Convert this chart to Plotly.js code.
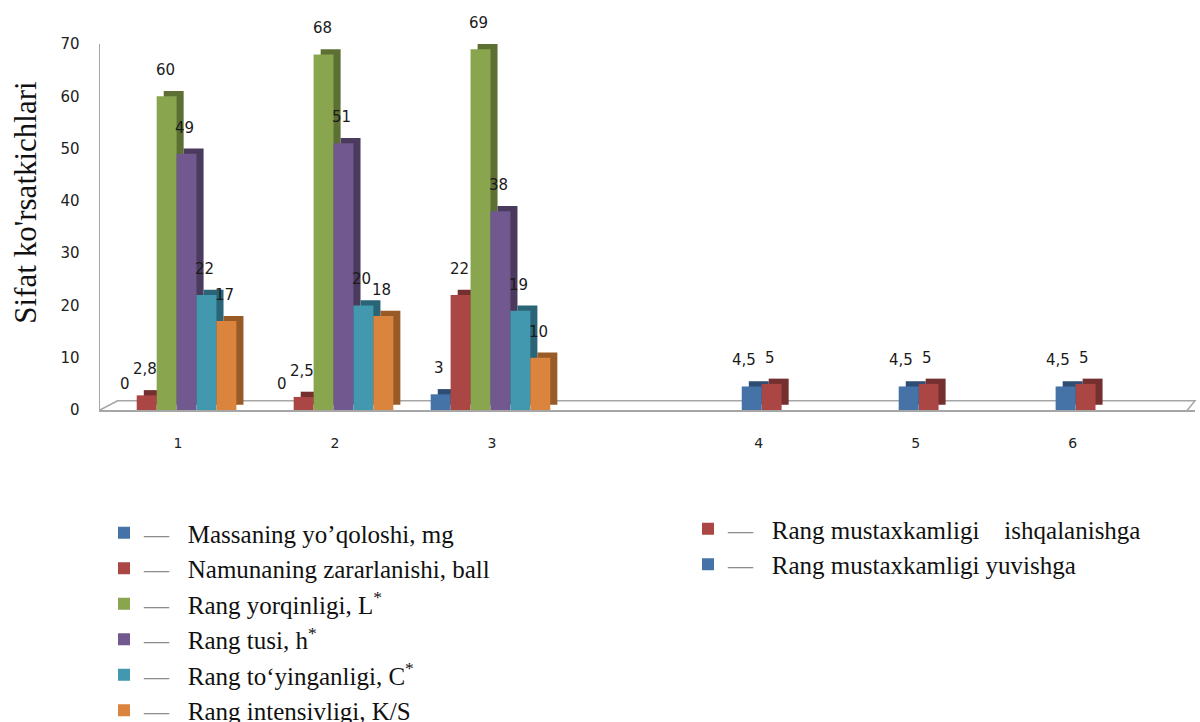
<!DOCTYPE html>
<html>
<head>
<meta charset="utf-8">
<script src="https://cdn.plot.ly/plotly-3.0.1.min.js"></script>
<style>html,body{margin:0;padding:0;background:#fff}#chart{width:1200px;height:722px}</style>
</head>
<body>
<div id="chart"></div>
<script>
// ---- data ----
const categories = ["1", "2", "3", "4", "5", "6"];
const groupA = ["1", "2", "3"];
const massLoss = [0, 0, 3];          // Massaning yoʼqoloshi, mg
const damage = [2.8, 2.5, 22];       // Namunaning zararlanishi, ball
const lightness = [60, 68, 69];      // Rang yorqinligi, L*
const hue = [49, 51, 38];            // Rang tusi, h*
const chroma = [22, 20, 19];         // Rang to‘yinganligi, C*
const intensity = [17, 18, 10];      // Rang intensivligi, K/S
const groupB = ["4", "5", "6"];
const rubFast = [5, 5, 5];           // Rang mustaxkamligi ishqalanishga
const washFast = [4.5, 4.5, 4.5];    // Rang mustaxkamligi yuvishga

// ---- layout helpers (positions of category slots on the axis) ----
const catPos = {"1": 1, "2": 2, "3": 3, "4": 4.7, "5": 5.7, "6": 6.7};
const BW = 0.127, DX = 0.045, DY = 1.0;
const dash = '<span style="color:#8c8c8c">—</span>\u00A0\u00A0\u00A0';

const seriesA = [
  {name: "Massaning yo\u02BCqoloshi, mg", y: massLoss, c: "#4572A7", d: "#2E4D74"},
  {name: "Namunaning zararlanishi, ball", y: damage, c: "#AA4643", d: "#74302E"},
  {name: "Rang yorqinligi, L<sup>*</sup>", y: lightness, c: "#89A54E", d: "#5C7034"},
  {name: "Rang tusi, h<sup>*</sup>", y: hue, c: "#71588F", d: "#4A3A5E"},
  {name: "Rang to\u2018yinganligi, C<sup>*</sup>", y: chroma, c: "#4198AF", d: "#2A6577"},
  {name: "Rang intensivligi, K/S", y: intensity, c: "#DB843D", d: "#985A27"}
];
const seriesB = [
  {name: "Rang mustaxkamligi\u00A0\u00A0\u00A0\u00A0ishqalanishga", y: rubFast, c: "#AA4643", d: "#74302E", slot: 1, lx: 0.0},
  {name: "Rang mustaxkamligi yuvishga", y: washFast, c: "#4572A7", d: "#2E4D74", slot: 0, lx: -0.04}
];

const fmt = v => String(v).replace('.', ',');
const shadows = [], fronts = [], labelAnns = [];

function addSeries(cats, s, off, legendId, lx) {
  const xs = cats.map(k => catPos[k]);
  shadows.push({type: 'bar', x: xs, y: s.y, base: s.y.map(() => DY), offset: off + DX, width: BW,
    marker: {color: s.d, line: {width: 0}}, showlegend: false, hoverinfo: 'skip'});
  fronts.push({type: 'bar', x: xs, y: s.y, offset: off, width: BW, name: dash + s.name, legend: legendId,
    marker: {color: s.c, line: {width: 0}}, hoverinfo: 'y'});
  xs.forEach((p, j) => labelAnns.push({
    xref: 'x', yref: 'y', x: p + off + BW / 2 - 0.01 + (lx || 0), y: s.y[j],
    text: fmt(s.y[j]), showarrow: false, xanchor: 'center', yanchor: 'bottom', yshift: 15,
    font: {family: 'DejaVu Sans', size: 15, color: '#1a1a1a'}
  }));
}

seriesA.forEach((s, i) => addSeries(groupA, s, -0.39 + i * BW, 'legend', 0));
seriesB.forEach(s => addSeries(groupB, s, -0.108 + s.slot * BW, 'legend2', s.lx));

const data = [...shadows, ...fronts];

const legendFont = {family: 'Liberation Serif', size: 25, color: '#111'};
const layout = {
  width: 1200, height: 722,
  margin: {l: 100, r: 5, t: 44, b: 312, autoexpand: false},
  paper_bgcolor: '#fff', plot_bgcolor: '#fff',
  barmode: 'overlay',
  showlegend: true,
  xaxis: {
    range: [0.503, 7.48], tickvals: categories.map(k => catPos[k]), ticktext: categories,
    showline: true, linecolor: '#a6a6a6', linewidth: 1.5, showgrid: false, zeroline: false,
    ticks: '', ticklabelstandoff: 20, automargin: false,
    tickfont: {family: 'DejaVu Sans', size: 14, color: '#222'}
  },
  yaxis: {
    range: [0, 70], dtick: 10, showline: true, linecolor: '#a6a6a6', linewidth: 1.5,
    showgrid: false, zeroline: false, ticks: '', ticklabelstandoff: 16, automargin: false,
    tickfont: {family: 'DejaVu Sans', size: 15, color: '#222'}
  },
  legend: {
    xref: 'container', yref: 'container', x: 104 / 1200, y: 212 / 722, xanchor: 'left', yanchor: 'top',
    font: legendFont, bgcolor: 'rgba(0,0,0,0)', traceorder: 'normal', itemwidth: 30
  },
  legend2: {
    xref: 'container', yref: 'container', x: 688 / 1200, y: 216 / 722, xanchor: 'left', yanchor: 'top',
    font: legendFont, bgcolor: 'rgba(0,0,0,0)', traceorder: 'normal', itemwidth: 30
  },
  shapes: [
    {type: 'path', xref: 'paper', yref: 'paper', layer: 'below',
     path: 'M 0 0 L 0.016 0.025 L 1 0.025 L 0.992 -0.004',
     line: {color: '#a6a6a6', width: 1.5}}
  ],
  annotations: [
    {text: "Sifat ko'rsatkichlari", xref: 'paper', yref: 'paper', x: -0.068, y: 0.568,
     textangle: -90, showarrow: false, xanchor: 'center', yanchor: 'middle',
     font: {family: 'Liberation Serif', size: 31, color: '#111'}},
    ...labelAnns
  ]
};

Plotly.newPlot('chart', data, layout, {displayModeBar: false, staticPlot: true});
</script>
</body>
</html>
